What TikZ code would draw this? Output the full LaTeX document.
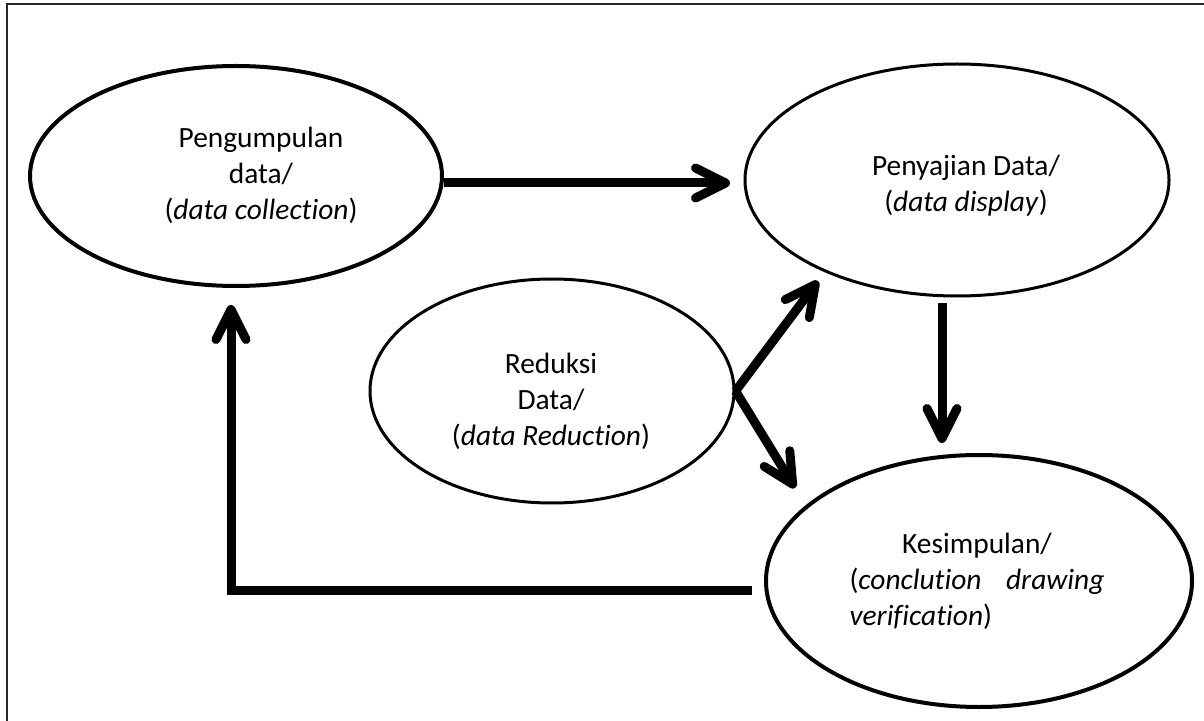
\documentclass[tikz,border=0pt]{standalone}
\usepackage{fontspec}
\setmainfont{Carlito}[Ligatures=NoCommon]
\usetikzlibrary{arrows.meta,shapes.geometric}
\tikzset{
  stage/.style={draw, ellipse, line width=2pt, inner sep=0pt},
  thinstage/.style={stage, line width=1.5pt},
  stagetext/.style={align=center, inner sep=0pt,
                    font=\fontsize{14.7pt}{18pt}\selectfont},
  flow/.style={line width=4.5pt, line join=miter,
               -{Straight Barb[length=15pt, width=15pt, line cap=round, line join=round]}},
}

\begin{document}
\begin{tikzpicture}[x=0.5pt, y=-0.5pt]
    \useasboundingbox (0,0) rectangle (1204,721);
    % frame, cut off at the right and bottom
    \draw[line width=1pt, black!85] (7,721) -- (7,4) -- (1204,4);

    % stages
    \node[stage, minimum width=206pt, minimum height=110pt] (collect) at (236,176) {};
    \node[thinstage, minimum width=212pt, minimum height=116pt] (display) at (957,180) {};
    \node[thinstage, minimum width=182pt, minimum height=112pt] (reduce) at (552,391) {};
    \node[stage, minimum width=213pt, minimum height=126pt] (conclude) at (979,581) {};

    \node[stagetext] (collecttxt) at (261,175) {Pengumpulan\\data/\\(\textit{data collection})};
    \node[stagetext] (displaytxt) at (966,186) {Penyajian Data/\\(\textit{data display})};
    \node[stagetext] (reducetxt) at (551,401) {Reduksi\\Data/\\(\textit{data Reduction})};
    \node[stagetext, align=justify, text width=127.5pt] (concludetxt) at (977,581)
      {\parindent=0pt\hyphenpenalty=10000{\centering Kesimpulan/\par}(\textit{conclution} \textit{drawing} \textit{verification})};

    % arrow ends
    \coordinate (collecttip) at (730,183);
    \coordinate (downfrom) at (942,303);
    \coordinate (downtip) at (942,443);
    \coordinate (uptip) at (818,281);
    \coordinate (lowtip) at (795,488);
    \coordinate (backfrom) at (752,590);
    \coordinate (backtip) at (231,305);

    \draw[flow] (collect.east |- collecttip) -- (collecttip);
    \draw[flow] (downfrom) -- (downtip);
    \draw[flow] (reduce.east) -- (uptip);
    \draw[flow] (reduce.east) -- (lowtip);
    \draw[flow] (backfrom) -- (backfrom -| backtip) -- (backtip);
\end{tikzpicture}
\end{document}
